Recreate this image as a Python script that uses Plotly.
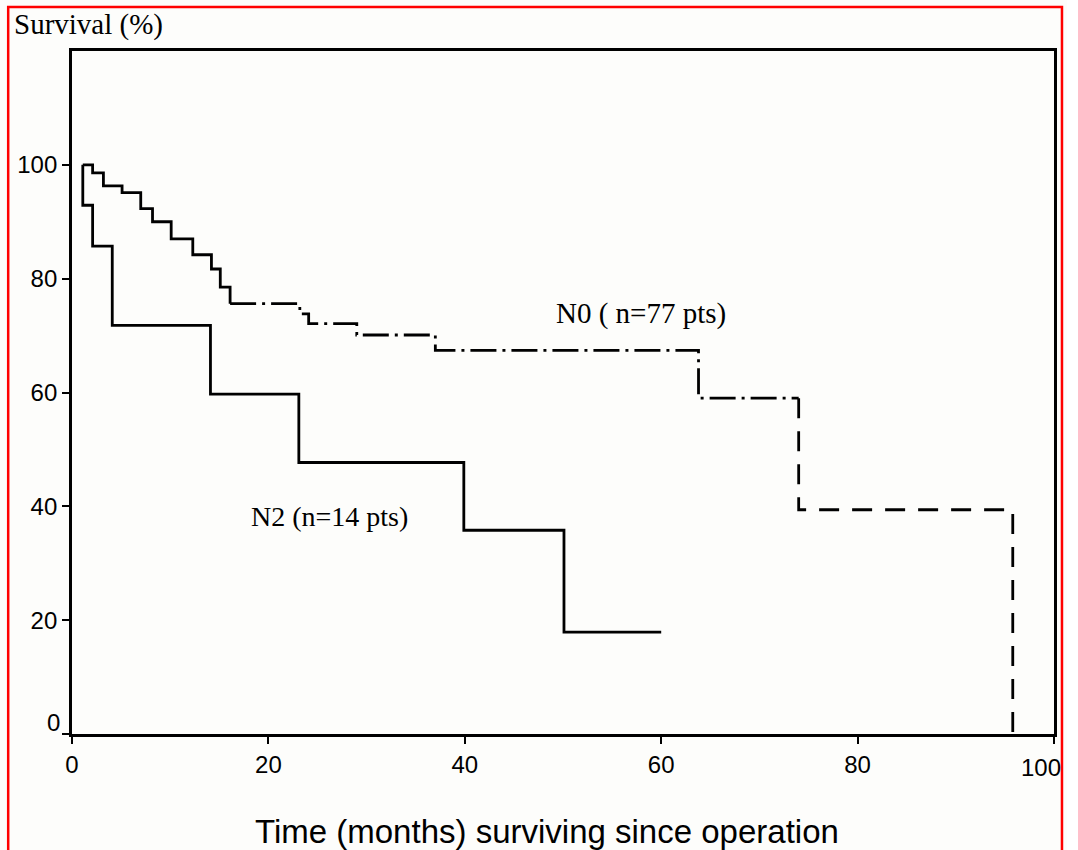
import plotly.graph_objects as go

# Kaplan-Meier survival after operation, by nodal status
START_TIME = 1.1          # months, first drawn point of both curves
START_SURV = 100.0        # %

# N0 group (77 patients): step times (months) and survival (%) after each step
n0_time = [2.1, 3.2, 5.1, 7.0, 8.2, 10.1, 12.3, 14.2, 15.1, 16.1,
           23.2, 24.1, 29.0, 37.0, 63.8, 74.0, 95.8]
n0_surv = [98.6, 96.3, 95.1, 92.3, 90.0, 87.0, 84.2, 81.7, 78.5, 75.6,
           73.8, 72.1, 70.1, 67.4, 59.0, 39.4, 0.0]

# N2 group (14 patients)
n2_time = [1.1, 2.1, 4.1, 14.1, 23.1, 39.9, 50.1]
n2_surv = [92.9, 85.7, 71.8, 59.7, 47.7, 35.8, 17.9]
n2_last_followup = 60.0

x_ticks = [0, 20, 40, 60, 80, 100]
y_ticks = [0, 20, 40, 60, 80, 100]

label_n0 = "N0 ( n=77 pts)"
label_n2 = "N2 (n=14 pts)"
y_title = "Survival (%)"
x_title = "Time (months) surviving since operation"

# page geometry (pixels) of the plotting frame
W, H = 1067, 850
L, R, T, B = 72, 1057, 51, 734


def px_to_paper(px, py):
    return (px - L) / (R - L), (B - py) / (B - T)


def step_path(t0, s0, times, surv, t_end=None):
    xs, ys, prev = [t0], [s0], s0
    for t, s in zip(times, surv):
        xs += [t, t]
        ys += [prev, s]
        prev = s
    if t_end is not None:
        xs.append(t_end)
        ys.append(prev)
    return xs, ys


fig = go.Figure()
LW = 2.8

# N2: solid step curve
x2, y2 = step_path(START_TIME, START_SURV, n2_time, n2_surv, n2_last_followup)
fig.add_trace(go.Scatter(x=x2, y=y2, mode="lines",
                         line=dict(color="black", width=LW),
                         hoverinfo="skip", showlegend=False))

# N0: solid early part, dash-dot middle part, dashed tail
x0, y0 = step_path(START_TIME, START_SURV, n0_time, n0_surv)
i_solid_end = 2 + 2 * 9     # bottom of the step at 16 months
i_dash_start = 1 + 2 * 15   # top of the step at 74 months
pieces = [
    (0, i_solid_end, "solid"),
    (i_solid_end, i_dash_start, "26px,6px,3px,6px"),
    (i_dash_start, len(x0) - 1, "20px,13px"),
]
for a, b, dash in pieces:
    fig.add_trace(go.Scatter(x=x0[a:b + 1], y=y0[a:b + 1], mode="lines",
                             line=dict(color="black", width=LW, dash=dash),
                             hoverinfo="skip", showlegend=False))

serif = "Liberation Serif, Times New Roman, serif"
sans = "Liberation Sans, Arial, sans-serif"
tick_font = dict(family=sans, size=24, color="black")

annotations = [
    dict(x=49.1, y=73.8, xref="x", yref="y", text=label_n0, showarrow=False,
         xanchor="left", yanchor="middle", font=dict(family=serif, size=29, color="black")),
    dict(x=18.0, y=38.2, xref="x", yref="y", text=label_n2, showarrow=False,
         xanchor="left", yanchor="middle", font=dict(family=serif, size=28, color="black")),
    # "0" of the survival axis sits just above the time axis
    dict(x=0, y=0, xref="paper", yref="y", text=str(y_ticks[0]), showarrow=False,
         xanchor="right", yanchor="middle", xshift=-10, yshift=12, font=tick_font),
    # last time label, kept inside the page edge
    dict(x=x_ticks[-1], y=0, xref="x", yref="paper", text=str(x_ticks[-1]), showarrow=False,
         xanchor="right", yanchor="top", xshift=9, yshift=-18, font=tick_font),
]
tx, ty = px_to_paper(12, 24)
annotations.append(dict(x=tx, y=ty, xref="paper", yref="paper", text=y_title,
                        showarrow=False, xanchor="left", yanchor="middle",
                        font=dict(family=serif, size=29, color="black")))
ax, ay = px_to_paper(548, 831)
annotations.append(dict(x=ax, y=ay, xref="paper", yref="paper", text=x_title,
                        showarrow=False, xanchor="center", yanchor="middle",
                        font=dict(family=sans, size=33, color="black")))

# red page border
bx0, by0 = px_to_paper(8, 7)
bx1, by1 = px_to_paper(W - 2, 900)
shapes = [dict(type="rect", xref="paper", yref="paper", x0=bx0, x1=bx1, y0=by1, y1=by0,
               line=dict(color="#ff0000", width=2.5), fillcolor="rgba(0,0,0,0)", layer="above")]

fig.update_layout(
    width=W, height=H, autosize=False,
    margin=dict(l=L, r=W - R, t=T, b=H - B, pad=0),
    paper_bgcolor="#fdfdfb", plot_bgcolor="#fdfdfb",
    annotations=annotations, shapes=shapes,
    xaxis=dict(range=[0, 100], tickvals=x_ticks,
               ticktext=["" if v == x_ticks[-1] else str(v) for v in x_ticks],
               showline=True, linecolor="black", linewidth=2.8, mirror=True,
               ticks="outside", ticklen=7, tickwidth=2.2, tickcolor="black",
               showgrid=False, zeroline=False, tickfont=tick_font),
    yaxis=dict(range=[0, 120], tickvals=y_ticks,
               ticktext=["" if v == y_ticks[0] else str(v) for v in y_ticks],
               showline=True, linecolor="black", linewidth=2.8, mirror=True,
               ticks="outside", ticklen=7, tickwidth=2.2, tickcolor="black",
               showgrid=False, zeroline=False, tickfont=tick_font),
)

fig.write_html("out.html", config={"responsive": False})
